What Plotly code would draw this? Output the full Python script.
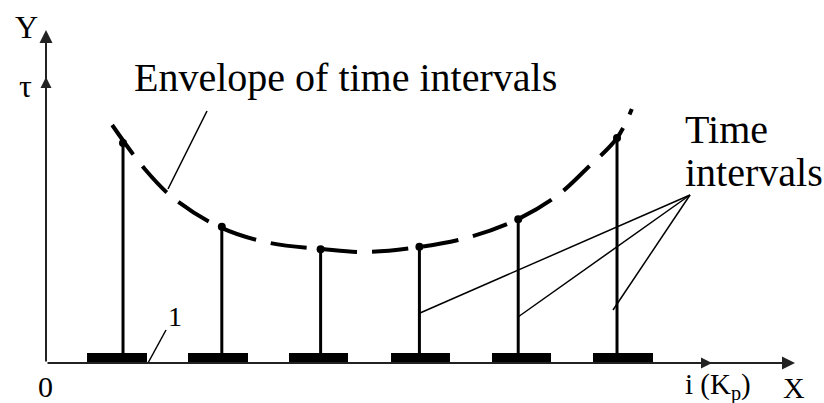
import plotly.graph_objects as go

# ---- data (schematic units: x = interval index, y = time interval length) ----
positions = [1, 2, 3, 4, 5, 6]
tau = [8.8, 5.45, 4.55, 4.65, 5.75, 9.0]
slot_centers = [0.94, 1.96, 2.98, 4.01, 5.03, 6.06]
slot_height = [0.4, 0.4, 0.4, 0.4, 0.4, 0.4]
envelope_x = [0.89, 1.22, 1.51, 2.0, 2.49, 3.02, 3.45, 4.0, 4.51, 5.0, 5.39, 5.69, 6.0, 6.15]
envelope_y = [9.52, 7.76, 6.60, 5.40, 4.80, 4.56, 4.44, 4.64, 5.04, 5.76, 6.68, 7.76, 9.00, 10.16]

W, H = 824, 403
SERIF = "Liberation Serif, Times New Roman, serif"


def px(x):
    return x / W


def py(y):
    return 1 - y / H


fig = go.Figure()

# slots (1)
fig.add_trace(go.Bar(x=slot_centers, y=slot_height, base=0, width=0.6,
                     marker=dict(color="black", line=dict(width=0)),
                     hoverinfo="skip", showlegend=False))

# stems
sx, sy = [], []
for p, t in zip(positions, tau):
    sx += [p, p, None]
    sy += [0, t, None]
fig.add_trace(go.Scatter(x=sx, y=sy, mode="lines", line=dict(color="black", width=3),
                         hoverinfo="skip", showlegend=False))
fig.add_trace(go.Scatter(x=positions, y=tau, mode="markers",
                         marker=dict(color="black", size=8),
                         hoverinfo="skip", showlegend=False))

# envelope
fig.add_trace(go.Scatter(x=envelope_x, y=envelope_y, mode="lines",
                         line=dict(color="black", width=4, dash="36px,15px", shape="spline"),
                         hoverinfo="skip", showlegend=False))

annotations = []
# axes with arrows
axis_arrows = [
    ((46, 30), (0, 333), 2, 1.3),
    ((46, 77), (0, 30), 2, 1.1),
    ((795, 363), (-749, 0), 2, 1.3),
    ((712, 363), (-30, 0), 2, 1.1),
]
for (tx, ty), (ax, ay), head, size in axis_arrows:
    annotations.append(dict(x=px(tx), y=py(ty), xref="paper", yref="paper",
                            ax=ax, ay=ay, showarrow=True, arrowhead=head,
                            arrowsize=size, arrowwidth=2, arrowcolor="#222", text=""))


def label(text, x, y, size, xanchor="center"):
    annotations.append(dict(x=px(x), y=py(y), xref="paper", yref="paper", text=text,
                            showarrow=False, xanchor=xanchor, yanchor="middle",
                            font=dict(family=SERIF, size=size, color="black")))


label("Y", 26, 27, 32)
label("τ", 25, 86, 32)
label("0", 45, 386, 30)
label("i (K<sub>p</sub>)", 683, 386, 29, xanchor="left")
label("X", 794, 387, 30)
label("1", 175, 316, 28)
label("Envelope of time intervals", 132, 77, 40, xanchor="left")
label("Time", 683, 130, 40, xanchor="left")
label("intervals", 683, 173, 40, xanchor="left")

shapes = []
leaders = [
    ((207, 111), (168, 189)),
    ((166, 330), (148, 363)),
    ((690, 195), (420, 313)),
    ((690, 195), (518, 317)),
    ((690, 195), (613, 310)),
]
for (x0, y0), (x1, y1) in leaders:
    shapes.append(dict(type="line", xref="paper", yref="paper",
                       x0=px(x0), y0=py(y0), x1=px(x1), y1=py(y1),
                       line=dict(color="black", width=1.5)))

fig.update_layout(
    width=W, height=H, margin=dict(l=0, r=0, t=0, b=0),
    paper_bgcolor="white", plot_bgcolor="white",
    xaxis=dict(range=[-0.245, 8.095], visible=False, fixedrange=True),
    yaxis=dict(range=[-1.6, 14.52], visible=False, fixedrange=True),
    annotations=annotations, shapes=shapes, bargap=0,
)

fig.write_html("out.html", config={"displayModeBar": False},
               post_script="document.body.style.margin='0';document.body.style.overflow='hidden';")
